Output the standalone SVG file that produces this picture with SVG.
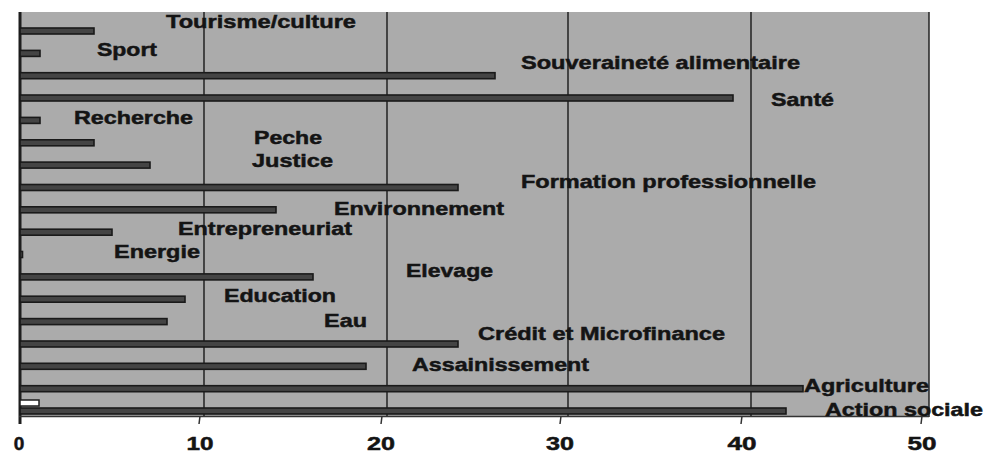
<svg xmlns="http://www.w3.org/2000/svg" width="987" height="455" viewBox="0 0 987 455">
<style>
.lbl{font-family:"Liberation Sans",Arial,sans-serif;font-weight:bold;font-size:19px;fill:#141414;stroke:#141414;stroke-width:0.5}
.num{font-family:"Liberation Sans",Arial,sans-serif;font-weight:bold;font-size:19px;fill:#141414;stroke:#141414;stroke-width:0.5;text-anchor:middle}
.bar{fill:#444444;stroke:#1a1a1a;stroke-width:1.6}
.grid{stroke:#2a2a2a;stroke-width:1.6}
</style>
<rect width="987" height="455" fill="#ffffff"/>
<g id="plot">
<rect x="20" y="12" width="909" height="405" fill="#ababab"/>
<line class="grid" x1="204" y1="12" x2="204" y2="416"/>
<line class="grid" x1="387" y1="12" x2="387" y2="416"/>
<line class="grid" x1="568" y1="12" x2="568" y2="416"/>
<line class="grid" x1="751" y1="12" x2="751" y2="416"/>
<line x1="929" y1="12" x2="929" y2="417" stroke="#222" stroke-width="1.5"/>
<line x1="20" y1="12" x2="20" y2="424" stroke="#1e1e1e" stroke-width="3"/>
<line x1="19" y1="416.5" x2="929" y2="416.5" stroke="#333" stroke-width="1.5"/>
<g stroke="#333" stroke-width="1.5">
<line x1="200" y1="416" x2="199" y2="424"/>
<line x1="382" y1="416" x2="381" y2="424"/>
<line x1="561" y1="416" x2="560" y2="424"/>
<line x1="742" y1="416" x2="741" y2="424"/>
<line x1="922" y1="416" x2="921" y2="424"/>
</g>
</g>
<g id="bars">
<rect class="bar" x="20" y="28" width="74" height="6"/>
<rect class="bar" x="20" y="50.4" width="20" height="6"/>
<rect class="bar" x="20" y="72.7" width="475" height="6"/>
<rect class="bar" x="20" y="95" width="713" height="6"/>
<rect class="bar" x="20" y="117.4" width="20" height="6"/>
<rect class="bar" x="20" y="139.8" width="74" height="6"/>
<rect class="bar" x="20" y="162.1" width="130" height="6"/>
<rect class="bar" x="20" y="184.5" width="438" height="6"/>
<rect class="bar" x="20" y="206.8" width="256" height="6"/>
<rect class="bar" x="20" y="229.2" width="92" height="6"/>
<rect class="bar" x="20" y="251.5" width="2.5" height="6"/>
<rect class="bar" x="20" y="273.9" width="293" height="6"/>
<rect class="bar" x="20" y="296.2" width="165" height="6"/>
<rect class="bar" x="20" y="318.6" width="147" height="6"/>
<rect class="bar" x="20" y="341" width="438" height="6"/>
<rect class="bar" x="20" y="363.3" width="346" height="6"/>
<rect class="bar" x="20" y="385.7" width="783" height="6"/>
<rect x="20" y="400" width="19" height="6" fill="#ffffff" stroke="#1e1e1e" stroke-width="1.5"/>
<rect class="bar" x="20" y="408" width="766" height="6"/>
</g>
<g id="labels">
<text class="lbl" x="166" y="28" textLength="190" lengthAdjust="spacingAndGlyphs">Tourisme/culture</text>
<text class="lbl" x="97" y="56" textLength="60" lengthAdjust="spacingAndGlyphs">Sport</text>
<text class="lbl" x="521" y="69" textLength="279" lengthAdjust="spacingAndGlyphs">Souveraineté alimentaire</text>
<text class="lbl" x="771" y="106" textLength="63" lengthAdjust="spacingAndGlyphs">Santé</text>
<text class="lbl" x="74" y="124" textLength="119" lengthAdjust="spacingAndGlyphs">Recherche</text>
<text class="lbl" x="254" y="144" textLength="68" lengthAdjust="spacingAndGlyphs">Peche</text>
<text class="lbl" x="252" y="167" textLength="81" lengthAdjust="spacingAndGlyphs">Justice</text>
<text class="lbl" x="521" y="188" textLength="295" lengthAdjust="spacingAndGlyphs">Formation professionnelle</text>
<text class="lbl" x="334" y="215" textLength="170" lengthAdjust="spacingAndGlyphs">Environnement</text>
<text class="lbl" x="178" y="235" textLength="174" lengthAdjust="spacingAndGlyphs">Entrepreneuriat</text>
<text class="lbl" x="114" y="258" textLength="86" lengthAdjust="spacingAndGlyphs">Energie</text>
<text class="lbl" x="406" y="277" textLength="87" lengthAdjust="spacingAndGlyphs">Elevage</text>
<text class="lbl" x="224" y="302" textLength="112" lengthAdjust="spacingAndGlyphs">Education</text>
<text class="lbl" x="324" y="327" textLength="43" lengthAdjust="spacingAndGlyphs">Eau</text>
<text class="lbl" x="478" y="340" textLength="247" lengthAdjust="spacingAndGlyphs">Crédit et Microfinance</text>
<text class="lbl" x="412" y="371" textLength="177" lengthAdjust="spacingAndGlyphs">Assainissement</text>
<text class="lbl" x="804" y="392" textLength="125" lengthAdjust="spacingAndGlyphs">Agriculture</text>
<text class="lbl" x="825" y="416" textLength="158" lengthAdjust="spacingAndGlyphs">Action sociale</text>
</g>
<g id="axis-labels">
<text class="num" x="19" y="450">0</text>
<text class="num" x="200" y="450" textLength="27" lengthAdjust="spacingAndGlyphs">10</text>
<text class="num" x="381" y="450" textLength="28" lengthAdjust="spacingAndGlyphs">20</text>
<text class="num" x="560" y="450" textLength="28" lengthAdjust="spacingAndGlyphs">30</text>
<text class="num" x="742" y="450" textLength="29" lengthAdjust="spacingAndGlyphs">40</text>
<text class="num" x="922" y="450" textLength="29" lengthAdjust="spacingAndGlyphs">50</text>
</g>
</svg>
